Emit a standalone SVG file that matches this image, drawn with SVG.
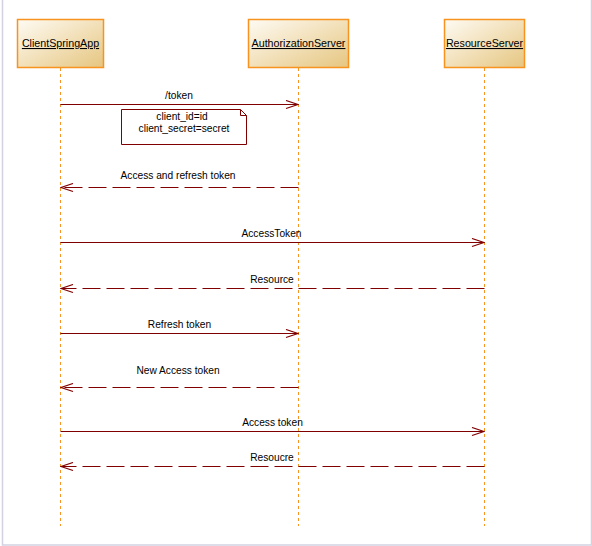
<svg xmlns="http://www.w3.org/2000/svg" width="592" height="546" viewBox="0 0 592 546">
<style>
.box{stroke:#f7931e;stroke-width:1.5;fill:url(#g)}
.life{stroke:#f7931e;stroke-width:1;stroke-dasharray:3 3;fill:none}
.msg{stroke:#800000;stroke-width:1.2;fill:none}
.ret{stroke:#800000;stroke-width:1.2;fill:none;stroke-dasharray:18 6}
.t{font-family:"Liberation Sans",Arial,sans-serif;font-size:10.2px;fill:#000;text-anchor:middle}
.h{font-family:"Liberation Sans",Arial,sans-serif;font-size:10.7px;fill:#000;text-anchor:middle;text-decoration:underline}
</style>
<defs>
<linearGradient id="g" x1="0" y1="0" x2="1" y2="1">
<stop offset="0" stop-color="#fefbf4"/>
<stop offset="1" stop-color="#e6c680"/>
</linearGradient>
<marker id="arr" viewBox="0 0 14 10" refX="13" refY="5" markerWidth="14" markerHeight="10" markerUnits="userSpaceOnUse" orient="auto">
<path d="M1,1 L13,5 L1,9" fill="none" stroke="#800000" stroke-width="1.2"/>
</marker>
</defs>
<rect x="2.5" y="-5" width="589" height="550" fill="#fff" stroke="#d2d2e2" stroke-width="1.5"/>
<g id="ClientSpringApp">
<rect class="box" x="17.5" y="19.5" width="86" height="48"/>
<text class="h" x="60.5" y="47">ClientSpringApp</text>
<line class="life" x1="60.5" y1="68" x2="60.5" y2="526"/>
</g>
<g id="AuthorizationServer">
<rect class="box" x="248.5" y="19.5" width="100" height="48"/>
<text class="h" x="298.5" y="47">AuthorizationServer</text>
<line class="life" x1="298.5" y1="68" x2="298.5" y2="526"/>
</g>
<g id="ResourceServer">
<rect class="box" x="444.5" y="19.5" width="80" height="48"/>
<text class="h" x="484.5" y="47">ResourceServer</text>
<line class="life" x1="484.5" y1="68" x2="484.5" y2="526"/>
</g>
<g id="note">
<path d="M121.5,109.5 H240.5 L246.5,115.5 V144.5 H121.5 Z" fill="#fff" stroke="#800000" stroke-width="1"/>
<path d="M240.5,109.5 V115.5 H246.5" fill="none" stroke="#800000" stroke-width="1"/>
<text class="t" x="182" y="119.5">client_id=id</text>
<text class="t" x="184" y="132">client_secret=secret</text>
</g>
<g id="connectors">
<line class="msg" x1="60.5" y1="104.5" x2="298" y2="104.5" marker-end="url(#arr)"/>
<text class="t" x="179" y="99">/token</text>
<line class="ret" x1="298.5" y1="187.5" x2="61" y2="187.5" marker-end="url(#arr)"/>
<text class="t" x="178" y="179">Access and refresh token</text>
<line class="msg" x1="60.5" y1="242.5" x2="484" y2="242.5" marker-end="url(#arr)"/>
<text class="t" x="271.5" y="237">AccessToken</text>
<line class="ret" x1="484.5" y1="288.5" x2="61" y2="288.5" marker-end="url(#arr)"/>
<text class="t" x="272" y="283">Resource</text>
<line class="msg" x1="60.5" y1="333.5" x2="298" y2="333.5" marker-end="url(#arr)"/>
<text class="t" x="179.5" y="328">Refresh token</text>
<line class="ret" x1="298.5" y1="387.5" x2="61" y2="387.5" marker-end="url(#arr)"/>
<text class="t" x="178" y="373.5">New Access token</text>
<line class="msg" x1="60.5" y1="431.5" x2="484" y2="431.5" marker-end="url(#arr)"/>
<text class="t" x="272.5" y="426">Access token</text>
<line class="ret" x1="484.5" y1="466.5" x2="61" y2="466.5" marker-end="url(#arr)"/>
<text class="t" x="272" y="461">Resoucre</text>
</g>
</svg>
